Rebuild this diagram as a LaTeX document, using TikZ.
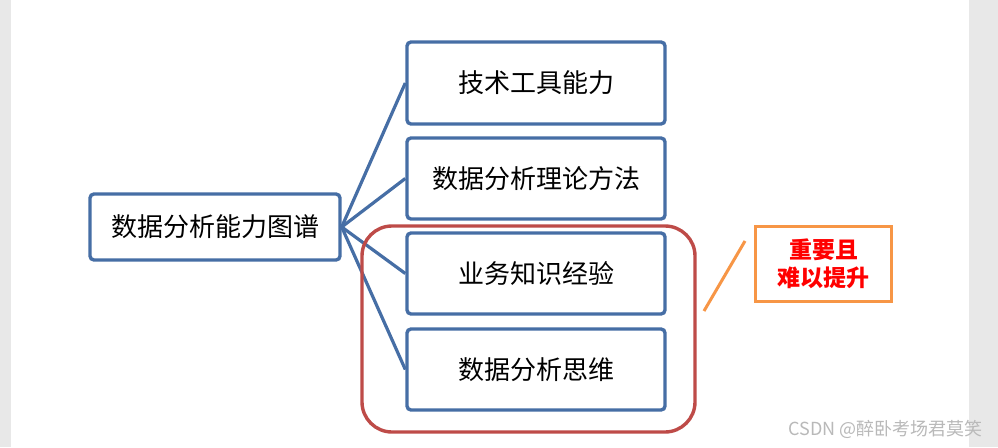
\documentclass[tikz,border=0pt]{standalone}
\usepackage{fontspec}
\setmainfont{Noto Sans CJK SC}
\definecolor{bblue}{RGB}{70,110,165}
\definecolor{bred}{RGB}{190,75,72}
\definecolor{borange}{RGB}{247,150,70}
\begin{document}
\begin{tikzpicture}[x=1pt,y=-1pt,
  bx/.style={draw=bblue, line width=3.4pt, rounded corners=4pt, minimum width=258pt, inner sep=0pt, font=\fontsize{26}{30}\selectfont},
  ln/.style={draw=bblue, line width=3.2pt}]
\fill[gray!18] (0,0) rectangle (998,447);
\fill[white] (11,0) rectangle (969,447);
\useasboundingbox (0,0) rectangle (998,447);
\node[bx, minimum width=250pt, minimum height=66pt] (m) at (215,227) {数据分析能力图谱};
\node[bx, minimum height=82pt] (a) at (536,83) {技术工具能力};
\node[bx, minimum height=81pt] (b) at (536,178.5) {数据分析理论方法};
\node[bx, minimum height=81pt] (c) at (536,273.5) {业务知识经验};
\node[bx, minimum height=81pt] (d) at (536,369.5) {数据分析思维};
\foreach \t in {a,b,c,d} \draw[ln] (m.east) -- (\t.west);
\draw[bred, line width=3.4pt, rounded corners=30pt] (362,226) rectangle (695,432);
\node[draw=borange, line width=3.4pt, minimum width=136pt, minimum height=75pt, text=red, font=\bfseries\fontsize{23}{28}\selectfont, align=center] (o) at (823.5,264) {重要且\\难以提升};
\coordinate (p1) at (745,241); \coordinate (p2) at (704,311);
\draw[borange, line width=3pt] (p1) -- (p2);
\node[text=gray!55, font=\fontsize{18}{20}\selectfont, anchor=east] (w) at (986,429) {CSDN @醉卧考场君莫笑};
\end{tikzpicture}
\end{document}
